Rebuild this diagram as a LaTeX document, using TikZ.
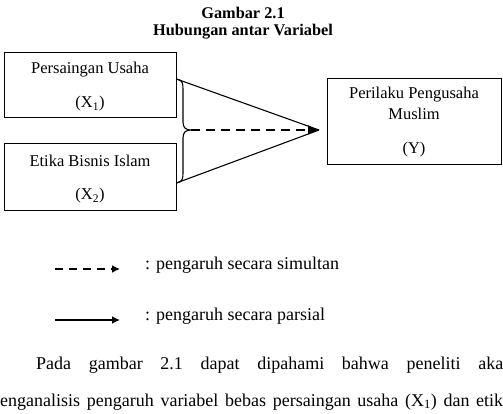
\documentclass[tikz,border=0pt]{standalone}
\usepackage{fontspec}
\setmainfont{Liberation Serif}
\usetikzlibrary{arrows.meta,calc}
\begin{document}
\begin{tikzpicture}[x=1pt,y=-1pt,
  varbox/.style={draw,line width=0.9pt,inner sep=0pt,minimum width=172pt},
  boxtxt/.style={font=\fontsize{16.5}{20}\selectfont,inner sep=0pt},
  legtxt/.style={font=\fontsize{18}{22}\selectfont,inner sep=0pt,anchor=west},
  ttl/.style={font=\bfseries\fontsize{16.3}{20}\selectfont,inner sep=0pt},
  link/.style={line width=1.1pt},
  simul/.style={line width=1.8pt,dash pattern=on 9pt off 6pt},
  bigtip/.style={-{Latex[length=11pt,width=10pt]}}
]
\useasboundingbox (0,0) rectangle (503,414);
% title
\node[ttl] (t1) at (243,13) {Gambar 2.1};
\node[ttl] (t2) at (243,32) {Hubungan antar Variabel};
% boxes
\node[varbox,minimum height=65pt] (x1) at (90,84.5) {};
\node[varbox,minimum height=67pt] (x2) at (90,176.5) {};
\node[varbox,minimum width=174pt,minimum height=86pt] (y) at (414,121) {};
\node[boxtxt] (x1a) at (90,70) {Persaingan Usaha};
\node[boxtxt] (x1b) at (90,104) {(X\textsubscript{1})};
\node[boxtxt] (x2a) at (90,161) {Etika Bisnis Islam};
\node[boxtxt] (x2b) at (90,196) {(X\textsubscript{2})};
\node[boxtxt] (ya) at (414,95) {Perilaku Pengusaha};
\node[boxtxt] (yb) at (414,114) {Muslim};
\node[boxtxt] (yc) at (414,150) {(Y)};
% connectors
\coordinate (s1) at ($(x1.east)+(0,-5.5)$);
\coordinate (s2) at ($(x2.east)+(0,6.5)$);
\coordinate (tip) at (319,130);
\coordinate (bt) at (191,130);
\draw[link] (s1) -- (tip);
\draw[link] (s2) -- (tip);
\draw[link] (s1) .. controls (183,80) and (183,84) .. (183,90)
  -- (183,122) .. controls (183,128) and (186,130) .. (bt)
  .. controls (186,130) and (183,132) .. (183,138)
  -- (183,172) .. controls (183,178) and (183,182) .. (s2);
\draw[simul,bigtip] (bt) -- (tip);
% legend
\coordinate (l1a) at (55,269);
\coordinate (l1b) at (120,269);
\coordinate (l2a) at (55,320);
\coordinate (l2b) at (120,320);
\draw[line width=2pt,dash pattern=on 8pt off 6pt,-{Latex[length=8pt,width=8pt]}] (l1a) -- (l1b);
\draw[line width=2pt,-{Latex[length=8pt,width=8pt]}] (l2a) -- (l2b);
\node[legtxt] (lt1) at (145,265) {: pengaruh secara simultan};
\node[legtxt] (lt2) at (145,316) {: pengaruh secara parsial};
% paragraph
\node[legtxt] (p1) at (36,365) {\hbox to 467pt{Pada\hfill gambar\hfill 2.1\hfill dapat\hfill dipahami\hfill bahwa\hfill peneliti\hfill aka}};
\node[legtxt] (p2) at (0,402) {\hbox to 503pt{enganalisis\hfill pengaruh\hfill variabel\hfill bebas\hfill persaingan\hfill usaha\hfill (X\textsubscript{1})\hfill dan\hfill etik}};
\end{tikzpicture}
\end{document}
